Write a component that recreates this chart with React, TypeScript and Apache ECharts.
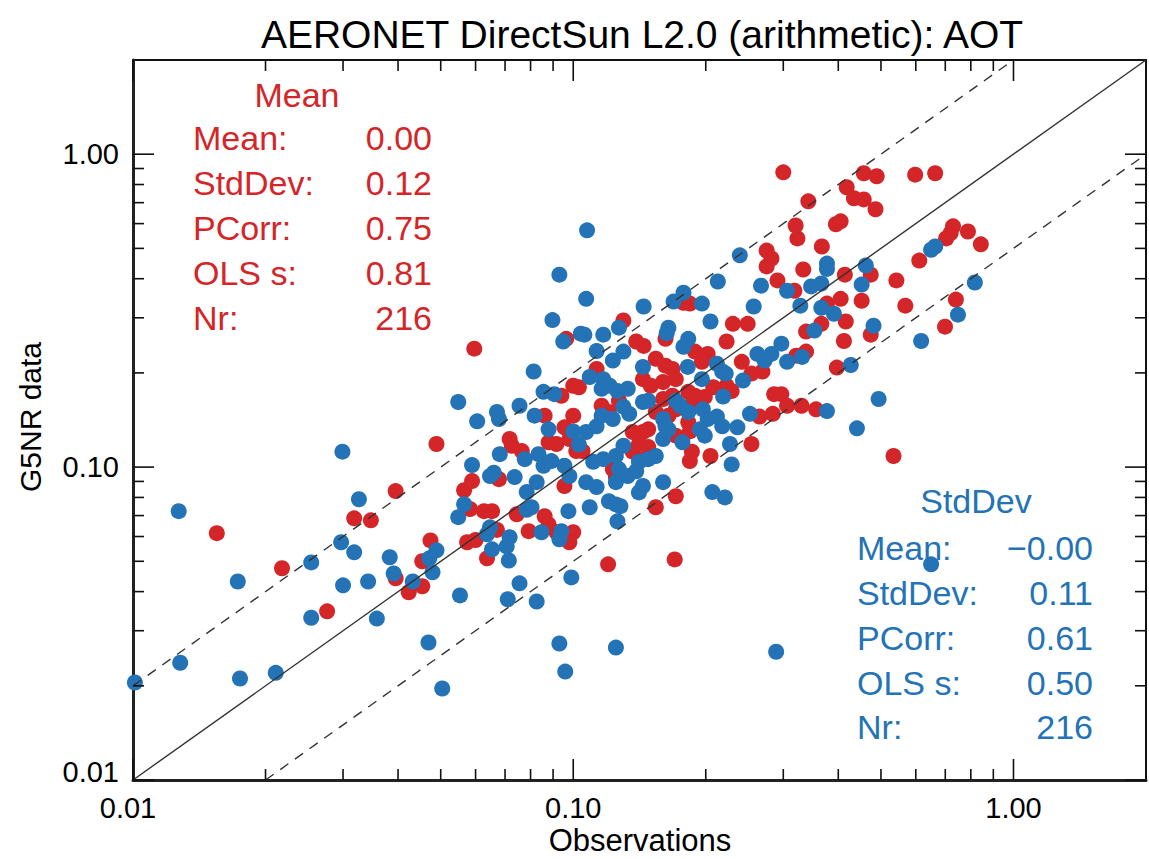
import React, { useEffect, useRef } from "react";
import * as echarts from "echarts";

const FONT = "'Liberation Sans', Arial, Helvetica, sans-serif";
const TITLE = "AERONET DirectSun L2.0 (arithmetic): AOT";
const X_NAME = "Observations";
const Y_NAME = "G5NR data";

const X_MIN = 0.01;
const X_MAX = 2;
const Y_MIN = 0.01;
const Y_MAX = 2;

const majorTicks = [0.01, 0.1, 1];
const minorTicks = [0.02, 0.03, 0.04, 0.05, 0.06, 0.07, 0.08, 0.09, 0.2, 0.3, 0.4, 0.5, 0.6, 0.7, 0.8, 0.9];

const statLabels = ["Mean:", "StdDev:", "PCorr:", "OLS s:", "Nr:"];
const redTitle = "Mean";
const redStats = ["0.00", "0.12", "0.75", "0.81", "216"];
const blueTitle = "StdDev";
const blueStats = ["\u22120.00", "0.11", "0.61", "0.50", "216"];

const oneToOne = [[0.01, 0.01], [2, 2]];
const upperFactor2 = [[0.01, 0.02], [1, 2]];
const lowerFactor2 = [[0.02, 0.01], [2, 1]];

const RED = "#d42528";
const BLUE = "#2373b6";

const redPoints = [
  [0.0596, 0.239], [0.0155, 0.0615], [0.0218, 0.0475], [0.0276, 0.0346], [0.0318, 0.0686],
  [0.0347, 0.0676], [0.0395, 0.0838], [0.0489, 0.1185], [0.0474, 0.0583], [0.0454, 0.05],
  [0.0395, 0.0441], [0.0423, 0.0398], [0.0454, 0.0416], [0.0565, 0.0844], [0.0589, 0.0902],
  [0.0583, 0.0734], [0.0574, 0.0575], [0.06, 0.0585], [0.13, 0.294], [0.0964, 0.257],
  [0.139, 0.252], [0.1445, 0.244], [0.113, 0.206], [0.144, 0.191], [0.15, 0.182],
  [0.1, 0.182], [0.103, 0.18], [0.094, 0.169], [0.0861, 0.146], [0.1, 0.146],
  [0.0955, 0.134], [0.0717, 0.123], [0.0725, 0.117], [0.0764, 0.1125], [0.0879, 0.12],
  [0.0916, 0.1185], [0.098, 0.123], [0.1016, 0.1125], [0.105, 0.1125], [0.116, 0.157],
  [0.1205, 0.15], [0.127, 0.163], [0.1365, 0.1295], [0.144, 0.1295], [0.148, 0.132],
  [0.141, 0.1185], [0.148, 0.116], [0.1365, 0.112], [0.1445, 0.106], [0.123, 0.0985],
  [0.125, 0.093], [0.0678, 0.0915], [0.0955, 0.087], [0.2305, 0.287], [0.249, 0.287],
  [0.162, 0.257], [0.223, 0.252], [0.338, 0.271], [0.366, 0.287], [0.338, 0.234],
  [0.321, 0.227], [0.189, 0.234], [0.202, 0.23], [0.196, 0.217], [0.154, 0.222],
  [0.162, 0.211], [0.168, 0.206], [0.171, 0.191], [0.16, 0.187], [0.2415, 0.217],
  [0.254, 0.199], [0.269, 0.202], [0.208, 0.18], [0.223, 0.182], [0.229, 0.175],
  [0.189, 0.169], [0.199, 0.1676], [0.1825, 0.174], [0.168, 0.169], [0.16, 0.165],
  [0.171, 0.153], [0.186, 0.159], [0.286, 0.171], [0.297, 0.171], [0.306, 0.157],
  [0.33, 0.157], [0.356, 0.153], [0.284, 0.148], [0.265, 0.145], [0.1645, 0.146],
  [0.1825, 0.139], [0.171, 0.126], [0.184, 0.13], [0.154, 0.15], [0.254, 0.1185],
  [0.186, 0.112], [0.184, 0.1045], [0.205, 0.1085], [0.171, 0.0807], [0.397, 0.208],
  [0.0627, 0.0723], [0.0654, 0.0723], [0.0744, 0.0707], [0.0861, 0.0697], [0.0879, 0.0656],
  [0.0792, 0.0624], [0.0916, 0.0619], [0.1, 0.0619], [0.098, 0.0575], [0.0671, 0.063],
  [0.0637, 0.0511], [0.154, 0.0744], [0.12, 0.0489], [0.17, 0.0507], [0.3, 0.875],
  [0.457, 0.869], [0.489, 0.85], [0.598, 0.86], [0.664, 0.869], [0.418, 0.784],
  [0.434, 0.723], [0.457, 0.717], [0.486, 0.667], [0.342, 0.707], [0.395, 0.597],
  [0.405, 0.61], [0.32, 0.592], [0.323, 0.538], [0.367, 0.507], [0.275, 0.492],
  [0.282, 0.464], [0.275, 0.438], [0.333, 0.428], [0.291, 0.395], [0.318, 0.366],
  [0.414, 0.412], [0.474, 0.412], [0.405, 0.345], [0.452, 0.34], [0.542, 0.395],
  [0.568, 0.328], [0.611, 0.457], [0.703, 0.538], [0.729, 0.588], [0.72, 0.56],
  [0.788, 0.566], [0.843, 0.515], [0.74, 0.343], [0.377, 0.333], [0.416, 0.292],
  [0.178, 0.335], [0.184, 0.333], [0.699, 0.281], [0.474, 0.265], [0.412, 0.253],
  [0.534, 0.1085],
];

const bluePoints = [
  [0.0101, 0.0205], [0.0127, 0.0723], [0.0128, 0.0237], [0.0173, 0.0431], [0.0175, 0.0211],
  [0.0211, 0.022], [0.0254, 0.0496], [0.0254, 0.033], [0.0299, 0.112], [0.0297, 0.0575],
  [0.03, 0.0419], [0.0318, 0.0534], [0.0326, 0.0789], [0.0342, 0.0431], [0.0358, 0.0328],
  [0.0383, 0.0515], [0.0391, 0.0457], [0.0432, 0.0431], [0.0489, 0.0542], [0.0471, 0.0511],
  [0.0479, 0.0461], [0.0469, 0.0275], [0.0504, 0.0196], [0.0548, 0.1615], [0.0548, 0.0692],
  [0.0565, 0.0761], [0.0589, 0.1015], [0.0553, 0.0389], [0.0605, 0.14], [0.0897, 0.295],
  [0.104, 0.267], [0.106, 0.265], [0.0949, 0.252], [0.117, 0.265], [0.127, 0.279],
  [0.113, 0.235], [0.123, 0.219], [0.13, 0.234], [0.0813, 0.202], [0.109, 0.194],
  [0.117, 0.191], [0.121, 0.182], [0.116, 0.178], [0.126, 0.175], [0.133, 0.178],
  [0.144, 0.209], [0.0856, 0.174], [0.0906, 0.171], [0.0755, 0.157], [0.0671, 0.15],
  [0.0678, 0.1425], [0.0817, 0.146], [0.0879, 0.132], [0.1, 0.13], [0.107, 0.1295],
  [0.113, 0.135], [0.116, 0.146], [0.123, 0.1425], [0.13, 0.156], [0.134, 0.148],
  [0.144, 0.1615], [0.148, 0.163], [0.103, 0.118], [0.0681, 0.11], [0.0776, 0.106],
  [0.0834, 0.11], [0.0856, 0.101], [0.0892, 0.1045], [0.0826, 0.0895], [0.0784, 0.0832],
  [0.0736, 0.0929], [0.0647, 0.0936], [0.066, 0.096], [0.0955, 0.101], [0.098, 0.0936],
  [0.107, 0.0895], [0.111, 0.104], [0.117, 0.106], [0.125, 0.1085], [0.13, 0.117],
  [0.127, 0.0985], [0.133, 0.0936], [0.139, 0.097], [0.141, 0.104], [0.148, 0.106],
  [0.144, 0.087], [0.141, 0.083], [0.113, 0.0863], [0.125, 0.0895], [0.1645, 0.279],
  [0.163, 0.268], [0.205, 0.292], [0.178, 0.2425], [0.1825, 0.257], [0.297, 0.248],
  [0.262, 0.23], [0.282, 0.23], [0.272, 0.219], [0.306, 0.217], [0.331, 0.225],
  [0.353, 0.273], [0.182, 0.209], [0.212, 0.214], [0.218, 0.202], [0.222, 0.199],
  [0.196, 0.191], [0.243, 0.189], [0.219, 0.168], [0.171, 0.163], [0.175, 0.157],
  [0.1825, 0.15], [0.16, 0.1425], [0.162, 0.135], [0.1645, 0.132], [0.16, 0.123],
  [0.177, 0.12], [0.197, 0.153], [0.202, 0.1425], [0.212, 0.145], [0.218, 0.135],
  [0.194, 0.132], [0.199, 0.126], [0.252, 0.148], [0.236, 0.134], [0.227, 0.1185],
  [0.229, 0.102], [0.377, 0.151], [0.16, 0.0895], [0.154, 0.1085], [0.207, 0.0832],
  [0.221, 0.08], [0.0804, 0.0744], [0.0784, 0.073], [0.0975, 0.0723], [0.109, 0.0744],
  [0.1205, 0.0778], [0.125, 0.076], [0.128, 0.075], [0.126, 0.0671], [0.0647, 0.0642],
  [0.0637, 0.061], [0.0717, 0.0597], [0.0706, 0.0558], [0.0654, 0.0546], [0.0714, 0.0503],
  [0.0847, 0.0619], [0.094, 0.0624], [0.093, 0.0588], [0.099, 0.0444], [0.0755, 0.0425],
  [0.071, 0.0378], [0.0826, 0.0372], [0.093, 0.0273], [0.125, 0.0265], [0.0959, 0.0222],
  [0.289, 0.0257], [0.1075, 0.571], [0.093, 0.412], [0.107, 0.345], [0.239, 0.475],
  [0.213, 0.392], [0.178, 0.361], [0.169, 0.338], [0.1445, 0.326], [0.196, 0.333],
  [0.267, 0.38], [0.257, 0.326], [0.306, 0.366], [0.328, 0.328], [0.377, 0.447],
  [0.377, 0.43], [0.347, 0.378], [0.366, 0.386], [0.366, 0.323], [0.391, 0.309],
  [0.462, 0.441], [0.452, 0.383], [0.481, 0.283], [0.664, 0.507], [0.65, 0.495],
  [0.817, 0.389], [0.748, 0.307], [0.617, 0.253], [0.427, 0.212], [0.494, 0.165],
  [0.441, 0.133], [0.65, 0.0489],
];

function tickLabel(v: number): string {
  if (v > 1.5) return "";
  return v.toFixed(2);
}

export default function App() {
  const ref = useRef<HTMLDivElement>(null);

  useEffect(() => {
    if (!ref.current) return;
    const chart = echarts.init(ref.current, undefined, { renderer: "svg" });

    const xTickData = [
      ...majorTicks.map((v) => [v, Y_MIN, 1]),
      ...minorTicks.map((v) => [v, Y_MIN, 0]),
    ];
    const yTickData = [
      ...majorTicks.map((v) => [X_MIN, v, 1]),
      ...minorTicks.map((v) => [X_MIN, v, 0]),
    ];

    const tickStyle = { stroke: "#111", lineWidth: 1.6 };

    const statTexts: any[] = [];
    const statLineY = [138, 183, 228, 273, 318];
    const blueLineY = [548, 593, 638, 683, 727];
    const STAT_FS = 34;
    statTexts.push({
      type: "text", x: 297, y: 95, z: 50,
      style: { text: redTitle, fill: RED, fontSize: STAT_FS, fontFamily: FONT, align: "center", verticalAlign: "middle" },
    });
    statTexts.push({
      type: "text", x: 976, y: 501, z: 50,
      style: { text: blueTitle, fill: BLUE, fontSize: STAT_FS, fontFamily: FONT, align: "center", verticalAlign: "middle" },
    });
    statLabels.forEach((lab, i) => {
      statTexts.push({
        type: "text", x: 193, y: statLineY[i], z: 50,
        style: { text: lab, fill: RED, fontSize: STAT_FS, fontFamily: FONT, align: "left", verticalAlign: "middle" },
      });
      statTexts.push({
        type: "text", x: 432, y: statLineY[i], z: 50,
        style: { text: redStats[i], fill: RED, fontSize: STAT_FS, fontFamily: FONT, align: "right", verticalAlign: "middle" },
      });
      statTexts.push({
        type: "text", x: 857, y: blueLineY[i], z: 50,
        style: { text: lab, fill: BLUE, fontSize: STAT_FS, fontFamily: FONT, align: "left", verticalAlign: "middle" },
      });
      statTexts.push({
        type: "text", x: 1093, y: blueLineY[i], z: 50,
        style: { text: blueStats[i], fill: BLUE, fontSize: STAT_FS, fontFamily: FONT, align: "right", verticalAlign: "middle" },
      });
    });

    const option: any = {
      animation: false,
      backgroundColor: "#ffffff",
      grid: {
        left: 133,
        top: 60,
        width: 1020,
        height: 720,
        show: true,
        borderColor: "#111",
        borderWidth: 2,
        backgroundColor: "transparent",
      },
      xAxis: {
        type: "log",
        logBase: 10,
        min: X_MIN,
        max: X_MAX,
        axisLine: { show: true, lineStyle: { color: "#222", width: 3 } },
        axisTick: { show: false },
        splitLine: { show: false },
        axisLabel: {
          color: "#000",
          fontSize: 29,
          fontFamily: FONT,
          margin: 13,
          formatter: (v: number) => (Math.abs(v - 0.01) < 1e-9 ? "{lo|0.01}" : tickLabel(v)),
          rich: { lo: { fontSize: 29, fontFamily: FONT, color: "#000", padding: [0, 10, 0, 0] } },
        },
      },
      yAxis: {
        type: "log",
        logBase: 10,
        min: Y_MIN,
        max: Y_MAX,
        axisLine: { show: true, lineStyle: { color: "#222", width: 3 } },
        axisTick: { show: false },
        splitLine: { show: false },
        axisLabel: {
          color: "#000",
          fontSize: 29,
          fontFamily: FONT,
          margin: 14,
          formatter: (v: number) => (Math.abs(v - 0.01) < 1e-9 ? "{lo|0.01}" : tickLabel(v)),
          rich: { lo: { fontSize: 29, fontFamily: FONT, color: "#000", padding: [0, 0, 16, 0] } },
        },
      },
      graphic: [
        {
          type: "text", x: 642, y: 34,
          style: { text: TITLE, fill: "#000", fontSize: 39, fontFamily: FONT, align: "center", verticalAlign: "middle" },
        },
        {
          type: "text", x: 640, y: 840,
          style: { text: X_NAME, fill: "#000", fontSize: 31, fontFamily: FONT, align: "center", verticalAlign: "middle" },
        },
        {
          type: "text", x: 30, y: 417, rotation: Math.PI / 2,
          style: { text: Y_NAME, fill: "#000", fontSize: 30, fontFamily: FONT, align: "center", verticalAlign: "middle" },
        },
        ...statTexts,
      ],
      series: [
        {
          type: "scatter",
          name: "red",
          data: redPoints,
          symbolSize: 16,
          itemStyle: { color: RED, opacity: 1 },
          z: 2,
          silent: true,
        },
        {
          type: "scatter",
          name: "blue",
          data: bluePoints,
          symbolSize: 16,
          itemStyle: { color: BLUE, opacity: 1 },
          z: 3,
          silent: true,
        },
        {
          type: "line",
          data: oneToOne,
          symbol: "none",
          lineStyle: { color: "#333", width: 1.4 },
          z: 5,
          silent: true,
        },
        {
          type: "line",
          data: upperFactor2,
          symbol: "none",
          lineStyle: { color: "#333", width: 1.4, type: [10, 8] },
          z: 5,
          silent: true,
        },
        {
          type: "line",
          data: lowerFactor2,
          symbol: "none",
          lineStyle: { color: "#333", width: 1.4, type: [10, 8] },
          z: 5,
          silent: true,
        },
        {
          type: "custom",
          coordinateSystem: "cartesian2d",
          data: xTickData,
          clip: false,
          silent: true,
          z: 10,
          renderItem: (params: any, api: any) => {
            const cs = params.coordSys;
            const p = api.coord([api.value(0), api.value(1)]);
            const len = api.value(2) ? 21 : 11;
            const top = cs.y;
            const bottom = cs.y + cs.height;
            return {
              type: "group",
              children: [
                { type: "line", shape: { x1: p[0], y1: bottom, x2: p[0], y2: bottom - len }, style: tickStyle },
                { type: "line", shape: { x1: p[0], y1: top, x2: p[0], y2: top + len }, style: tickStyle },
              ],
            };
          },
        },
        {
          type: "custom",
          coordinateSystem: "cartesian2d",
          data: yTickData,
          clip: false,
          silent: true,
          z: 10,
          renderItem: (params: any, api: any) => {
            const cs = params.coordSys;
            const p = api.coord([api.value(0), api.value(1)]);
            const len = api.value(2) ? 21 : 11;
            const left = cs.x;
            const right = cs.x + cs.width;
            return {
              type: "group",
              children: [
                { type: "line", shape: { x1: left, y1: p[1], x2: left + len, y2: p[1] }, style: tickStyle },
                { type: "line", shape: { x1: right, y1: p[1], x2: right - len, y2: p[1] }, style: tickStyle },
              ],
            };
          },
        },
      ],
    };

    chart.setOption(option);
    return () => {
      chart.dispose();
    };
  }, []);

  return (
    <div
      ref={ref}
      style={{ position: "absolute", left: 0, top: 0, width: 1149, height: 859, background: "#fff" }}
    />
  );
}
